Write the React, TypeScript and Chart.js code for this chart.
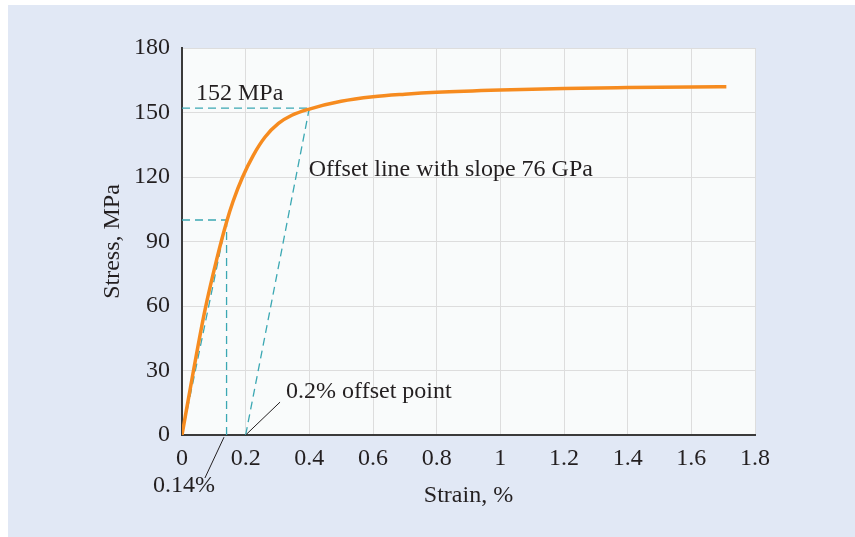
import React, { useEffect, useRef } from "react";
import { Chart, registerables } from "chart.js";

Chart.register(...registerables);

// Stress–strain curve (strain %, stress MPa)
const curveStrain = [0, 0.036, 0.072, 0.109, 0.14, 0.16, 0.19, 0.224, 0.261, 0.303, 0.345, 0.4, 0.5, 0.6, 0.7, 0.8, 1.0, 1.2, 1.4, 1.6, 1.71];
const curveStress = [0, 29.9, 58, 81.7, 99.1, 108.5, 119.9, 130.1, 138.6, 144.9, 148.7, 151.6, 155.2, 157.3, 158.5, 159.4, 160.5, 161.2, 161.6, 161.9, 162];

// Construction (dashed) lines, each as [x1, y1, x2, y2]
const yieldLevel = [0, 152, 0.4, 152];
const propLevel = [0, 100, 0.14, 100];
const propVertical = [0.14, 0, 0.14, 100];
const secantLine = [0, 0, 0.14, 100];
const offsetLine = [0.2, 0, 0.4, 152];

// Leader lines for labels
const leaderOffset = [0.2, 0, 0.308, 15.3];
const leaderProp = [0.132, -1, 0.072, -20];

// Annotation texts with anchor [strain, stress]
const annotations: [string, number, number][] = [
  ["152 MPa", 0.044, 155.8],
  ["Offset line with slope 76 GPa", 0.398, 120.5],
  ["0.2% offset point", 0.327, 17],
  ["0.14%", -0.091, -26.4],
];

const xTickValues = [0, 0.2, 0.4, 0.6, 0.8, 1, 1.2, 1.4, 1.6, 1.8];
const xTickLabels = ["0", "0.2", "0.4", "0.6", "0.8", "1", "1.2", "1.4", "1.6", "1.8"];
const yTickLabels = ["0", "30", "60", "90", "120", "150", "180"];

const FONT = "'Liberation Serif', 'DejaVu Serif', serif";
const FONT_SIZE = 24;
const TEAL = "#3ba8b3";
const TEXT = "#231f20";

const seg = (a: number[]) => [
  { x: a[0], y: a[1] },
  { x: a[2], y: a[3] },
];

const dashed = (a: number[]) => ({
  data: seg(a),
  borderColor: TEAL,
  borderWidth: 1.3,
  borderDash: [8, 5],
  pointRadius: 0,
  tension: 0,
  fill: false,
});

export default function App() {
  const ref = useRef<HTMLCanvasElement | null>(null);

  useEffect(() => {
    if (!ref.current) return;

    const bgPlugin = {
      id: "plotBg",
      beforeDraw(chart: any) {
        const { ctx, chartArea } = chart;
        ctx.save();
        ctx.fillStyle = "#f9fbfb";
        ctx.fillRect(chartArea.left, chartArea.top, chartArea.right - chartArea.left, chartArea.bottom - chartArea.top);
        ctx.restore();
      },
    };

    const annoPlugin = {
      id: "annos",
      afterDatasetsDraw(chart: any) {
        const { ctx } = chart;
        const xs = chart.scales.x;
        const ys = chart.scales.y;
        ctx.save();
        ctx.strokeStyle = "#231f20";
        ctx.lineWidth = 1;
        [leaderOffset, leaderProp].forEach((l) => {
          ctx.beginPath();
          ctx.moveTo(xs.getPixelForValue(l[0]), ys.getPixelForValue(l[1]));
          ctx.lineTo(xs.getPixelForValue(l[2]), ys.getPixelForValue(l[3]));
          ctx.stroke();
        });
        ctx.fillStyle = TEXT;
        ctx.font = `${FONT_SIZE}px ${FONT}`;
        ctx.textAlign = "left";
        ctx.textBaseline = "alphabetic";
        annotations.forEach(([t, x, y]) => {
          ctx.fillText(t, xs.getPixelForValue(x), ys.getPixelForValue(y));
        });
        ctx.restore();
      },
    };

    const chart = new Chart(ref.current, {
      type: "line",
      data: {
        datasets: [
          {
            data: curveStrain.map((x, i) => ({ x, y: curveStress[i] })),
            borderColor: "#f68b1f",
            borderWidth: 3.5,
            pointRadius: 0,
            cubicInterpolationMode: "monotone",
            fill: false,
          } as any,
          dashed(yieldLevel),
          dashed(propLevel),
          dashed(propVertical),
          dashed(secantLine),
          dashed(offsetLine),
        ],
      },
      options: {
        animation: false,
        responsive: true,
        maintainAspectRatio: false,
        layout: { padding: { left: 90, top: 43, right: 100, bottom: 27 } },
        plugins: { legend: { display: false }, tooltip: { enabled: false } },
        scales: {
          x: {
            type: "linear",
            min: 0,
            max: 1.8,
            afterFit: (s: any) => {
              s.height = 75;
            },
            afterBuildTicks: (s: any) => {
              s.ticks = xTickValues.map((v) => ({ value: v }));
            },
            ticks: {
              color: TEXT,
              font: { family: FONT, size: FONT_SIZE },
              padding: 9,
              maxRotation: 0,
              autoSkip: false,
              callback: (_v: any, i: number) => xTickLabels[i],
            },
            grid: { color: "#dddddd", lineWidth: 1, drawTicks: false },
            border: { display: true, color: "#3a3a3a", width: 2 },
            title: {
              display: true,
              text: "Strain, %",
              color: TEXT,
              font: { family: FONT, size: FONT_SIZE },
              padding: 0,
            },
          },
          y: {
            type: "linear",
            min: 0,
            max: 180,
            afterFit: (s: any) => {
              s.width = 84;
            },
            ticks: {
              stepSize: 30,
              color: TEXT,
              font: { family: FONT, size: FONT_SIZE },
              padding: 12,
              callback: (_v: any, i: number) => yTickLabels[i],
            },
            grid: { color: "#dddddd", lineWidth: 1, drawTicks: false },
            border: { display: true, color: "#3a3a3a", width: 2 },
            title: {
              display: true,
              text: "Stress, MPa",
              color: TEXT,
              font: { family: FONT, size: FONT_SIZE },
              padding: 0,
            },
          },
        },
      } as any,
      plugins: [bgPlugin, annoPlugin],
    });

    return () => chart.destroy();
  }, []);

  return (
    <div
      style={{
        position: "fixed",
        left: 8,
        top: 5,
        width: 847,
        height: 532,
        background: "#e1e8f5",
      }}
    >
      <canvas ref={ref} />
    </div>
  );
}
